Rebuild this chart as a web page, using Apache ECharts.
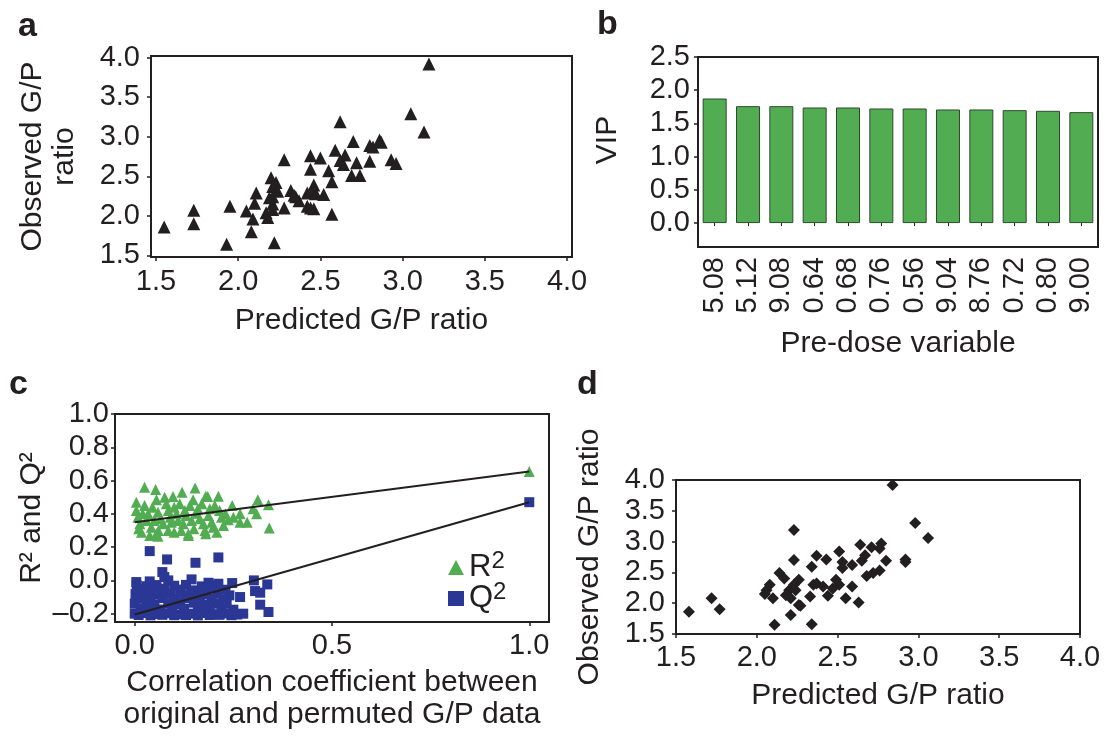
<!DOCTYPE html>
<html>
<head>
<meta charset="utf-8">
<script src="https://cdn.jsdelivr.net/npm/echarts@6/dist/echarts.min.js"></script>
<style>
  html, body { margin: 0; padding: 0; background: #fff; }
  #fig { width: 1105px; height: 738px; }
</style>
</head>
<body>
<div id="fig"></div>
<script>
// panel a: predicted vs observed G/P ratio
const aPoints = [
  [3.16,3.92],[3.05,3.29],[3.13,3.06],[2.62,3.19],[2.70,2.94],[2.80,2.89],[2.86,2.96],[2.80,2.69],[2.93,2.71],[2.96,2.66],
  [2.65,2.77],[2.59,2.83],[2.64,2.65],[2.72,2.67],[2.69,2.51],[2.74,2.51],[2.50,2.73],[2.44,2.76],[2.44,2.59],[2.55,2.57],
  [2.57,2.43],[2.28,2.71],[2.20,2.48],[2.21,2.37],[2.24,2.31],[2.11,2.29],[2.32,2.32],[2.35,2.24],[2.37,2.19],[2.42,2.29],
  [2.46,2.39],[2.47,2.28],[2.52,2.27],[2.21,2.24],[2.21,2.15],[2.28,2.10],[2.42,2.12],[2.46,2.09],[2.10,2.16],[2.05,2.06],
  [2.09,1.96],[2.17,2.04],[2.18,1.98],[2.08,1.80],[1.95,2.12],[1.73,2.07],[1.73,1.90],[1.55,1.86],[1.93,1.64],[2.22,1.66],
  [2.57,2.02],[2.82,2.87],[2.87,2.93],[2.62,2.70],[2.46,2.33],[2.23,2.42],[2.19,2.23],[2.34,2.26],[2.21,2.08],[2.44,2.10]
];

// panel b: VIP per pre-dose variable
const bCategories = ['5.08','5.12','9.08','0.64','0.68','0.76','0.56','9.04','8.76','0.72','0.80','9.00'];
const bVip = [1.875, 1.76, 1.76, 1.74, 1.74, 1.725, 1.725, 1.71, 1.71, 1.70, 1.69, 1.67];

// panel c: permutation test
const cR2 = [
  [0.025,0.560],[0.053,0.546],[0.120,0.530],[0.153,0.555],[0.185,0.504],[0.212,0.506],
  [0.004,0.470],[0.025,0.450],[0.055,0.484],[0.076,0.500],[0.097,0.504],[0.114,0.460],[0.148,0.484],[0.170,0.460],[0.203,0.450],[0.247,0.450],
  [0.004,0.420],[0.034,0.400],[0.059,0.410],[0.085,0.420],[0.106,0.400],[0.127,0.420],[0.157,0.404],[0.187,0.390],[0.220,0.380],[0.237,0.365],[0.267,0.350],
  [0.013,0.340],[0.042,0.320],[0.072,0.340],[0.093,0.350],[0.123,0.340],[0.144,0.360],[0.174,0.340],[0.199,0.320],
  [0.017,0.290],[0.055,0.280],[0.085,0.300],[0.136,0.280],[0.178,0.300],[0.208,0.290],[0.038,0.270],[0.059,0.265],[0.136,0.270],
  [0.312,0.484],[0.339,0.454],[0.341,0.315],[0.267,0.400],[0.309,0.400],[0.300,0.430],[0.180,0.506],
  [0.008,0.380],[0.030,0.360],[0.045,0.440],[0.066,0.370],[0.080,0.460],[0.100,0.440],[0.110,0.360],[0.130,0.390],[0.140,0.450],
  [0.160,0.430],[0.165,0.370],[0.190,0.430],[0.195,0.350],[0.215,0.420],[0.225,0.330],[0.020,0.400],[0.050,0.360],[0.090,0.380],
  [0.118,0.300],[0.150,0.310],[0.100,0.290],[0.060,0.300],[0.010,0.310],[0.230,0.400],[0.180,0.280],[0.250,0.380],[0.285,0.350],
  [1.0,0.655]
];
const cQ2 = [
  [0.038,0.176],[0.082,0.126],[0.154,0.106],[0.212,0.138],[0.070,0.050],[0.302,0.000],[0.336,-0.024],[0.305,-0.064],[0.318,-0.074],
  [0.267,-0.100],[0.233,-0.140],[0.318,-0.146],[0.339,-0.190],[0.247,-0.016],[0.212,-0.020],[0.085,0.000],[0.144,0.006],[0.187,-0.014],
  [0.004,-0.010],[0.038,-0.006],[0.075,0.020],
  [0.005,-0.030],[0.030,-0.035],[0.055,-0.028],[0.100,-0.032],[0.130,-0.027],[0.170,-0.036],[0.205,-0.030],
  [0.015,-0.052],[0.045,-0.058],[0.075,-0.050],[0.115,-0.055],[0.155,-0.060],[0.190,-0.048],[0.230,-0.056],
  [0.002,-0.082],[0.025,-0.078],[0.060,-0.085],[0.090,-0.080],[0.125,-0.088],[0.145,-0.076],[0.175,-0.084],[0.210,-0.080],[0.240,-0.090],
  [0.010,-0.110],[0.040,-0.115],[0.070,-0.106],[0.100,-0.112],[0.135,-0.108],[0.165,-0.118],[0.195,-0.110],[0.225,-0.114],
  [0.000,-0.140],[0.030,-0.136],[0.050,-0.145],[0.085,-0.138],[0.115,-0.142],[0.150,-0.134],[0.180,-0.146],[0.205,-0.140],
  [0.015,-0.170],[0.045,-0.166],[0.065,-0.175],[0.095,-0.168],[0.125,-0.172],[0.160,-0.165],[0.190,-0.174],[0.220,-0.170],[0.250,-0.176],
  [0.000,-0.200],[0.025,-0.196],[0.055,-0.202],[0.080,-0.198],[0.110,-0.204],[0.140,-0.200],[0.170,-0.196],[0.200,-0.203],[0.230,-0.199],
  [0.260,-0.205],[0.275,-0.200],[0.010,-0.208],[0.040,-0.210],[0.070,-0.207],[0.100,-0.209],[0.130,-0.208],[0.160,-0.210],[0.190,-0.208],
  [0.215,-0.207],[0.245,-0.209],
  [1.0,0.470]
];
const cR2Fit = [[0, 0.35], [1.0, 0.655]];
const cQ2Fit = [[0, -0.205], [1.0, 0.47]];

// panel d: predicted vs observed G/P ratio
const dPoints = [
  [2.84,3.92],[2.98,3.30],[3.06,3.06],[2.23,3.19],[2.64,2.95],[2.71,2.91],[2.77,2.97],[2.76,2.89],[2.51,2.84],[2.67,2.78],
  [2.65,2.69],[2.80,2.69],[2.92,2.71],[2.92,2.67],[2.23,2.70],[2.37,2.77],[2.43,2.71],[2.34,2.59],[2.53,2.67],[2.59,2.62],
  [2.53,2.57],[2.68,2.44],[2.72,2.49],[2.76,2.53],[2.14,2.49],[2.17,2.40],[2.26,2.38],[2.23,2.30],[2.35,2.30],[2.41,2.27],
  [2.49,2.38],[2.47,2.24],[2.59,2.27],[2.08,2.30],[2.05,2.15],[2.10,2.08],[2.20,2.21],[2.21,2.08],[2.33,2.11],[2.44,2.12],
  [2.55,2.08],[2.63,2.01],[2.26,1.97],[2.27,1.96],[2.21,1.81],[2.11,1.65],[2.34,1.66],[1.72,2.08],[1.77,1.90],[1.58,1.86],
  [2.24,2.21],[2.37,2.32],[2.51,2.30],[2.06,2.21],[2.18,2.13]
];

// tick labels
const ratioTicks = [1.5, 2.0, 2.5, 3.0, 3.5, 4.0];
const vipTicks = [0, 0.5, 1.0, 1.5, 2.0, 2.5];
const corrTicks = [0, 0.5, 1.0];
const r2q2Ticks = [-0.2, 0, 0.2, 0.4, 0.6, 0.8, 1.0];

const ink = '#231f20';
const green = '#52ad52';
const blue = '#2b3795';
const ff = 'Liberation Sans, Arial, Helvetica, sans-serif';

function fmt(v) {
    return (v < 0 ? '\u2013' : '') + Math.abs(v).toFixed(1);
}

function valueAxis(grid, min, max, ticks, labelMargin, name, nameGap) {
    return {
        type: 'value',
        gridIndex: grid,
        min: min,
        max: max,
        name: name,
        nameLocation: 'middle',
        nameGap: nameGap,
        nameTextStyle: { fontSize: 30, color: ink, fontFamily: ff, lineHeight: 32 },
        splitLine: { show: false },
        axisLine: { show: true, onZero: false, lineStyle: { color: ink, width: 2 } },
        axisTick: { show: true, length: 4, customValues: ticks, lineStyle: { color: ink, width: 1.5 } },
        axisLabel: { customValues: ticks, formatter: fmt, fontSize: 29, color: ink, fontFamily: ff, margin: labelMargin }
    };
}

let myChart = echarts.init(document.getElementById('fig'));

myChart.setOption({
    animation: false,
    backgroundColor: '#fff',
    textStyle: { fontFamily: ff },
    grid: [
        { left: 151, top: 56, width: 421, height: 201, show: true, borderColor: ink, borderWidth: 2 },
        { left: 698, top: 57, width: 400, height: 190, show: true, borderColor: ink, borderWidth: 2 },
        { left: 115, top: 414, width: 434, height: 208, show: true, borderColor: ink, borderWidth: 2 },
        { left: 676, top: 480, width: 404, height: 154, show: true, borderColor: ink, borderWidth: 2 }
    ],
    xAxis: [
        valueAxis(0, 1.47, 4.03, ratioTicks, 10, 'Predicted G/P ratio', 48),
        {
            type: 'category',
            gridIndex: 1,
            data: bCategories,
            position: 'bottom',
            name: 'Pre-dose variable',
            nameLocation: 'middle',
            nameGap: 82,
            nameTextStyle: { fontSize: 30, color: ink, fontFamily: ff },
            axisLine: { show: true, onZero: false, lineStyle: { color: ink, width: 2 } },
            axisTick: { show: false },
            axisLabel: { rotate: 90, fontSize: 29, color: ink, fontFamily: ff, margin: 10, interval: 0 }
        },
        {
            // small ticks along the zero line, under each bar
            type: 'category',
            gridIndex: 1,
            data: bCategories,
            position: 'bottom',
            axisLine: { show: false, onZero: true },
            axisTick: { show: true, alignWithLabel: true, length: 3, lineStyle: { color: ink, width: 1 } },
            axisLabel: { show: false }
        },
        valueAxis(2, -0.05, 1.05, corrTicks, 9, 'Correlation coefficient between\noriginal and permuted G/P data', 45),
        valueAxis(3, 1.5, 4.0, ratioTicks, 9, 'Predicted G/P ratio', 46)
    ],
    yAxis: [
        valueAxis(0, 1.48, 4.02, ratioTicks, 11, 'Observed G/P\nratio', 70),
        valueAxis(1, -0.36, 2.5, vipTicks, 8, '', 0),
        valueAxis(2, -0.25, 1.0, r2q2Ticks, 6, 'R\u00b2 and Q\u00b2', 67),
        valueAxis(3, 1.5, 4.0, ratioTicks, 11, 'Observed G/P ratio', 70)
    ],
    legend: {
        data: ['R2', 'Q2'],
        orient: 'vertical',
        left: 443,
        top: 544,
        itemWidth: 16,
        itemHeight: 15,
        itemGap: -6,
        formatter: function (n) { return '{m|' + n.charAt(0) + '}{s|2}'; },
        textStyle: {
            color: ink,
            rich: {
                m: { fontSize: 31, lineHeight: 25, fontFamily: ff, color: ink },
                s: { fontSize: 24, lineHeight: 12, padding: [0, 0, 13, 0], fontFamily: ff, color: ink }
            }
        }
    },
    graphic: [
        { type: 'text', x: 18, y: 10, style: { text: 'a', font: 'bold 34px ' + ff, fill: ink } },
        { type: 'text', x: 597, y: 8, style: { text: 'b', font: 'bold 34px ' + ff, fill: ink } },
        { type: 'text', x: 9, y: 368, style: { text: 'c', font: 'bold 34px ' + ff, fill: ink } },
        { type: 'text', x: 577, y: 368, style: { text: 'd', font: 'bold 34px ' + ff, fill: ink } },
        {
            type: 'text', x: 608, y: 140, rotation: Math.PI / 2,
            style: { text: 'VIP', font: '30px ' + ff, fill: ink, align: 'center', verticalAlign: 'middle' }
        }
    ],
    series: [
        {
            type: 'scatter', xAxisIndex: 0, yAxisIndex: 0,
            symbol: 'triangle', symbolSize: 13,
            itemStyle: { color: ink, opacity: 1 },
            data: aPoints
        },
        {
            type: 'bar', xAxisIndex: 1, yAxisIndex: 1,
            barWidth: 24,
            itemStyle: { color: green, borderColor: '#2d4a2d', borderWidth: 1 },
            data: bVip
        },
        {
            name: 'R2', type: 'scatter', xAxisIndex: 3, yAxisIndex: 2,
            symbol: 'triangle', symbolSize: 11,
            itemStyle: { color: green, opacity: 1 },
            data: cR2
        },
        {
            name: 'Q2', type: 'scatter', xAxisIndex: 3, yAxisIndex: 2,
            symbol: 'rect', symbolSize: 10,
            itemStyle: { color: blue, opacity: 1 },
            data: cQ2
        },
        {
            type: 'line', xAxisIndex: 3, yAxisIndex: 2,
            showSymbol: false, silent: true,
            lineStyle: { color: ink, width: 2 },
            data: cR2Fit
        },
        {
            type: 'line', xAxisIndex: 3, yAxisIndex: 2,
            showSymbol: false, silent: true,
            lineStyle: { color: ink, width: 2 },
            data: cQ2Fit
        },
        {
            type: 'scatter', xAxisIndex: 4, yAxisIndex: 3,
            symbol: 'diamond', symbolSize: 12,
            itemStyle: { color: ink, opacity: 1 },
            data: dPoints
        }
    ]
});
</script>
</body>
</html>
